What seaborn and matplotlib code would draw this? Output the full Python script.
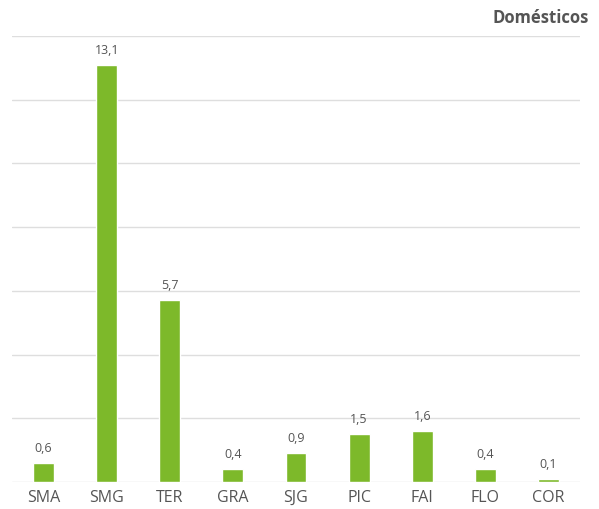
import matplotlib
matplotlib.use("Agg")
import matplotlib.pyplot as plt
import seaborn as sns
import pandas as pd

categories = ["SMA", "SMG", "TER", "GRA", "SJG", "PIC", "FAI", "FLO", "COR"]
values = [0.6, 13.1, 5.7, 0.4, 0.9, 1.5, 1.6, 0.4, 0.1]
title = "Domésticos"

sns.set_theme(style="white")
plt.rcParams['font.family'] = ['Open Sans', 'DejaVu Sans']

df = pd.DataFrame({"cat": categories, "val": values})

fig = plt.figure(figsize=(5.99, 5.09), dpi=100)
ax = fig.add_axes([12/599, 27/509, 568/599, 446/509])
sns.barplot(data=df, x="cat", y="val", color="#7DB92A", saturation=1, width=0.33, ax=ax, zorder=3)
ax.set_ylim(0, 14)
ax.set_xlim(-0.5, len(categories) - 0.5)
ax.set_yticks(range(0, 15, 2))
ax.yaxis.grid(True, color="#dedede", linewidth=1)
ax.set_axisbelow(True)
ax.tick_params(axis="y", left=False, labelleft=False, length=0)
ax.tick_params(axis="x", bottom=False, length=0, labelsize=11.5, labelcolor="#555555", pad=6)
for s in ax.spines.values():
    s.set_visible(False)
ax.set_xlabel("")
ax.set_ylabel("")
for i, v in enumerate(values):
    ax.text(i, v + 0.25, f"{v:.1f}".replace(".", ","), ha="center", va="bottom",
            fontsize=9, color="#555555")
fig.text(589/599, 1 - 18/509, title, ha="right", va="center", fontsize=12,
         fontweight="bold", color="#555555")
fig.savefig("out.png", dpi=100)
